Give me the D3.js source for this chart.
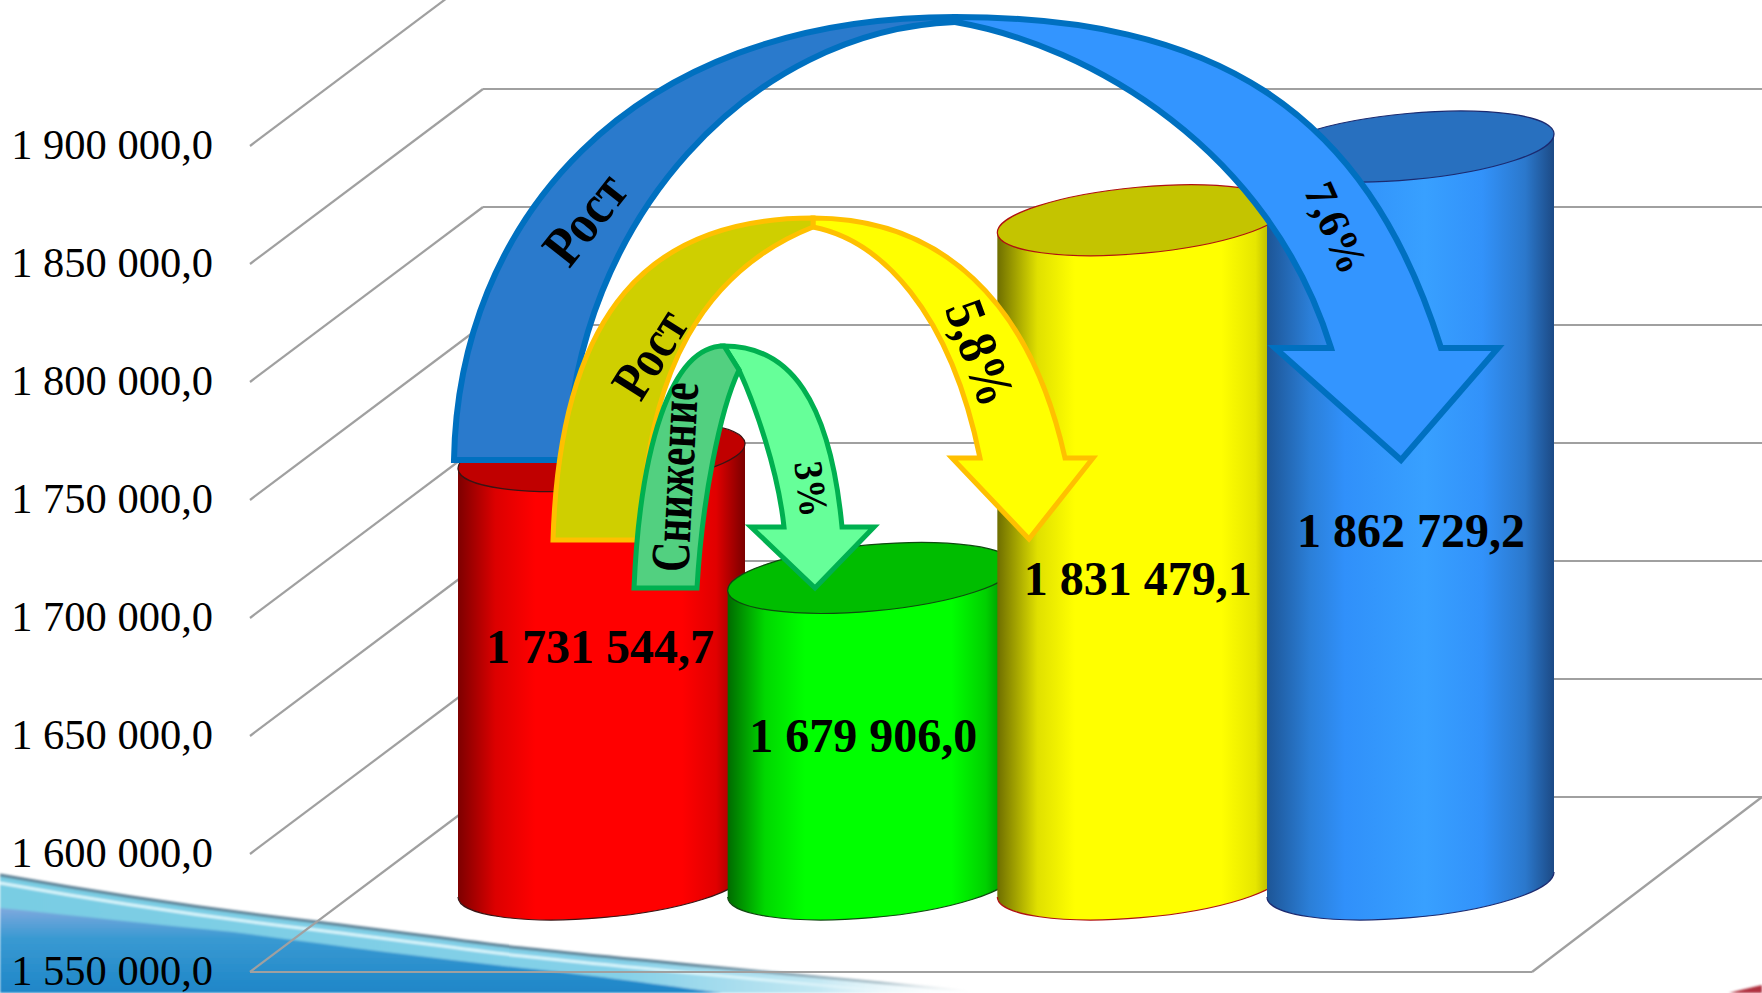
<!DOCTYPE html>
<html>
<head>
<meta charset="utf-8">
<script src="https://cdn.jsdelivr.net/npm/d3@7"></script>
<style>
  html, body { margin: 0; padding: 0; background: #fff; overflow: hidden; }
  text { font-family: "Liberation Serif", serif; fill: #000; }
</style>
</head>
<body>
<svg id="chart" width="1762" height="993"></svg>
<script>
// Chart data
var categories = ["first", "second", "third", "fourth"];
var values = [1731544.7, 1679906.0, 1831479.1, 1862729.2];
var valueLabels = ["1 731 544,7", "1 679 906,0", "1 831 479,1", "1 862 729,2"];
var tickValues = [1550000, 1600000, 1650000, 1700000, 1750000, 1800000, 1850000, 1900000];
var tickLabels = ["1 550 000,0", "1 600 000,0", "1 650 000,0", "1 700 000,0", "1 750 000,0", "1 800 000,0", "1 850 000,0", "1 900 000,0"];
var arrowTexts = ["Рост", "7,6%", "Рост", "5,8%", "Снижение", "3%"];

var svg = d3.select("#chart");
var defs = svg.append("defs");

// Mid depth of the 3D box is where the cylinders stand
var y = d3.scaleLinear().domain([1550000, 1900000]).range([884.5, 58.5]);
var x = d3.scalePoint().domain(categories).range([601.5, 1410.5]);

var depth = 87.5;            // half depth of the floor, vertical
var frontX = 250, backX = 483, floorFrontRight = 1532, rightEdge = 1762;
var halfW = 143.5, rx = 144.06, ry = 33.1, tilt = -5.2, tiltDy = 12.4;

// Cylinder colours: top, outline, side gradient stops
var cylinderStyles = [
  { top: "#c00000", line: "#3a1414", stops: [[0, "#7d0000"], [.13, "#dc0000"], [.27, "#ff0000"], [.78, "#ff0000"], [.9, "#e00000"], [1, "#7a0000"]] },
  { top: "#00bd00", line: "#0f4a0f", stops: [[0, "#006b00"], [.13, "#00d800"], [.27, "#00ff00"], [.78, "#00ff00"], [.9, "#00d000"], [1, "#006f00"]] },
  { top: "#c4c400", line: "#b01010", stops: [[0, "#6e6e00"], [.14, "#e0e000"], [.27, "#ffff00"], [.78, "#ffff00"], [.9, "#e6e600"], [1, "#8a8a00"]] },
  { top: "#2870bf", line: "#1b2a70", stops: [[0, "#1d5596"], [.15, "#2b7fd8"], [.27, "#3090fa"], [.55, "#38a0ff"], [.75, "#3292fa"], [.9, "#2b78cc"], [1, "#1c4a85"]] }
];

// Background swoosh in the bottom left corner
var swooshTop = "M0,875 C100,893 200,908 300,920 C400,932 460,941 522,948 C600,957 800,975 989,993 L0,993 Z";
var swooshDark = "M0,908 C80,916 160,925 233,932 C330,945 430,958 522,968 C600,976 660,985 722,993 L0,993 Z";
var swooshLine = "M0,875 C100,893 200,908 300,920 C400,932 460,941 522,948 C600,957 800,975 989,993";

function hGradient(id, stops) {
  var g = defs.append("linearGradient").attr("id", id).attr("gradientUnits", "userSpaceOnUse")
    .attr("x1", 0).attr("x2", 1000).attr("y1", 0).attr("y2", 0);
  stops.forEach(function (s) {
    g.append("stop").attr("offset", s[0]).attr("stop-color", s[1]).attr("stop-opacity", s[2]);
  });
}
hGradient("swooshFade", [[0, "#79cde3", 1], [.62, "#84d0e8", 1], [.82, "#c4e8f3", 1], [.98, "#ffffff", 0]]);
hGradient("swooshLineFade", [[0, "#5f8296", 1], [.68, "#5f8296", 1], [.88, "#8fa9b5", .7], [.98, "#ffffff", 0]]);
hGradient("swooshGlow", [[0, "#d9f5fb", 1], [.75, "#d9f5fb", 1], [.95, "#ffffff", 0]]);
var deep = defs.append("linearGradient").attr("id", "swooshDeep").attr("x1", 0).attr("x2", 0).attr("y1", 0).attr("y2", 1);
deep.append("stop").attr("offset", 0).attr("stop-color", "#7fa9de");
deep.append("stop").attr("offset", .35).attr("stop-color", "#3a9ad2");
deep.append("stop").attr("offset", 1).attr("stop-color", "#1e86c8");
defs.append("filter").attr("id", "soft").append("feGaussianBlur").attr("stdDeviation", 1.2);

var back = svg.append("g").attr("filter", "url(#soft)");
back.append("path").attr("d", swooshTop).attr("fill", "url(#swooshFade)");
back.append("path").attr("d", swooshDark).attr("fill", "url(#swooshDeep)");
back.append("path").attr("d", swooshLine).attr("transform", "translate(0,8)").attr("fill", "none").attr("stroke", "url(#swooshGlow)").attr("stroke-width", 3);
back.append("path").attr("d", swooshLine).attr("fill", "none").attr("stroke", "url(#swooshLineFade)").attr("stroke-width", 3);
back.append("path").attr("d", "M1729,993 C1740,990 1752,987 1762,985 L1762,993 Z").attr("fill", "#b03040");

// Grid: diagonal on the side wall, horizontal on the back wall
var grid = svg.append("g").attr("fill", "none").attr("stroke", "#a0a0a0").attr("stroke-width", 2.2);
grid.selectAll(".side").data(tickValues).enter().append("line")
  .attr("class", "side")
  .attr("x1", frontX).attr("x2", backX)
  .attr("y1", function (d) { return y(d) + depth; })
  .attr("y2", function (d) { return y(d) - depth; });
grid.selectAll(".rear").data(tickValues).enter().append("line")
  .attr("class", "rear")
  .attr("x1", backX).attr("x2", rightEdge)
  .attr("y1", function (d) { return y(d) - depth; })
  .attr("y2", function (d) { return y(d) - depth; });
// Front and right edges of the floor
grid.append("line").attr("x1", frontX).attr("x2", floorFrontRight)
  .attr("y1", y(1550000) + depth).attr("y2", y(1550000) + depth);
grid.append("line").attr("x1", floorFrontRight).attr("x2", rightEdge)
  .attr("y1", y(1550000) + depth).attr("y2", y(1550000) - depth);

// Value axis sits on the front of the side wall
var axis = d3.axisLeft(y)
  .tickValues(tickValues)
  .tickSize(0)
  .tickPadding(37)
  .tickFormat(function (d, i) { return tickLabels[i]; });
var axisG = svg.append("g")
  .attr("transform", "translate(" + frontX + "," + depth + ")")
  .call(axis);
axisG.select(".domain").remove();
axisG.selectAll("text")
  .style("font-family", '"Liberation Serif", serif')
  .style("font-size", "42.5px")
  .attr("fill", "#000")
  .attr("dy", 12);

// Cylinders
var cylinders = svg.append("g").selectAll("g")
  .data(categories).enter().append("g");

cylinderStyles.forEach(function (s, i) {
  var g = defs.append("linearGradient").attr("id", "side" + i);
  s.stops.forEach(function (st) {
    g.append("stop").attr("offset", st[0]).attr("stop-color", st[1]);
  });
});

cylinders.append("path")
  .attr("fill", function (d, i) { return "url(#side" + i + ")"; })
  .attr("d", function (d, i) {
    var c = x(d), t = y(values[i]), b = y(1550000);
    return "M" + (c - halfW) + "," + (t + tiltDy) +
      "L" + (c - halfW) + "," + (b + tiltDy) +
      "A" + rx + "," + ry + " " + tilt + " 0 0 " + (c + halfW) + "," + (b - tiltDy) +
      "L" + (c + halfW) + "," + (t - tiltDy) + "Z";
  });
cylinders.append("path")
  .attr("fill", "none")
  .attr("stroke", function (d, i) { return cylinderStyles[i].line; })
  .attr("stroke-width", 1.2)
  .attr("d", function (d) {
    var c = x(d), b = y(1550000);
    return "M" + (c - halfW) + "," + (b + tiltDy) +
      "A" + rx + "," + ry + " " + tilt + " 0 0 " + (c + halfW) + "," + (b - tiltDy);
  });
cylinders.append("ellipse")
  .attr("rx", rx).attr("ry", ry)
  .attr("transform", function (d, i) { return "translate(" + x(d) + "," + y(values[i]) + ") rotate(" + tilt + ")"; })
  .attr("fill", function (d, i) { return cylinderStyles[i].top; })
  .attr("stroke", function (d, i) { return cylinderStyles[i].line; })
  .attr("stroke-width", 1.2);

// Value labels, nudged from the middle of each cylinder
var labelNudge = [[-1.5, -7], [-8, 21], [-3, 43], [0.5, 32]];
svg.append("g").selectAll("text")
  .data(categories).enter().append("text")
  .attr("text-anchor", "middle")
  .style("font-size", "48px")
  .style("font-weight", "bold")
  .attr("x", function (d, i) { return x(d) + labelNudge[i][0]; })
  .attr("y", function (d, i) { return (y(values[i]) + y(1550000)) / 2 + labelNudge[i][1]; })
  .text(function (d, i) { return valueLabels[i]; });

// Curved annotation arrows: rising band on the left, falling band with head on the right
var arrowStyles = [
  {
    dark: "#2a7acc", light: "#3395ff", line: "#0070c0", width: 6,
    left: "M454,460 C458,225 625,17 955,17 L955,22 C750,30 575,220 567,460 Z",
    right: "M955,17 C1210,17 1365,105 1441,348 L1498,348 L1401,460 L1275,348 L1331,348 C1270,150 1090,45 955,22 Z"
  },
  {
    dark: "#cfcf00", light: "#ffff00", line: "#ffc000", width: 5,
    left: "M553,540 C560,310 650,218 813,218 L813,227 C705,270 645,370 641,540 Z",
    right: "M813,218 C940,218 1030,300 1065,458 L1093,458 L1029,539 L952,458 L980,458 C950,310 880,240 813,227 Z"
  },
  {
    dark: "#52d080", light: "#66ff99", line: "#00b050", width: 5,
    left: "M634,588 C640,450 670,346 724,346 L739,370 C720,410 702,500 697,588 Z",
    right: "M724,346 C790,346 830,400 842,527 L874,527 L815,588 L751,527 L784,527 C778,470 755,405 739,370 Z"
  }
];
var arrows = svg.append("g").selectAll("g").data(arrowStyles).enter().append("g")
  .attr("stroke", function (d) { return d.line; })
  .attr("stroke-width", function (d) { return d.width; })
  .attr("stroke-linejoin", "miter")
  .attr("stroke-miterlimit", 3.2);
arrows.append("path").attr("d", function (d) { return d.right; }).attr("fill", function (d) { return d.light; });
arrows.append("path").attr("d", function (d) { return d.left; }).attr("fill", function (d) { return d.dark; });

// Text laid along the arrows, stretched across the band like the original WordArt
var arrowTextLayout = [
  { x: 585, y: 219, rotate: -52, size: 49, stretch: 1.15 },
  { x: 1336, y: 228, rotate: 66, size: 42, stretch: 1.05 },
  { x: 650, y: 354, rotate: -58, size: 46, stretch: 1.2 },
  { x: 980, y: 353, rotate: 70, size: 48, stretch: 1.15 },
  { x: 675, y: 477, rotate: -87, size: 41, stretch: 1.35 },
  { x: 811, y: 489, rotate: 83, size: 37, stretch: 1.1 }
];
svg.append("g").selectAll("text")
  .data(arrowTexts).enter().append("text")
  .attr("text-anchor", "middle")
  .style("font-weight", "bold")
  .style("font-size", function (d, i) { return arrowTextLayout[i].size + "px"; })
  .attr("transform", function (d, i) {
    var p = arrowTextLayout[i];
    return "translate(" + p.x + "," + p.y + ") rotate(" + p.rotate + ") scale(1," + p.stretch + ")";
  })
  .attr("dy", "0.33em")
  .text(function (d) { return d; });
</script>
</body>
</html>
